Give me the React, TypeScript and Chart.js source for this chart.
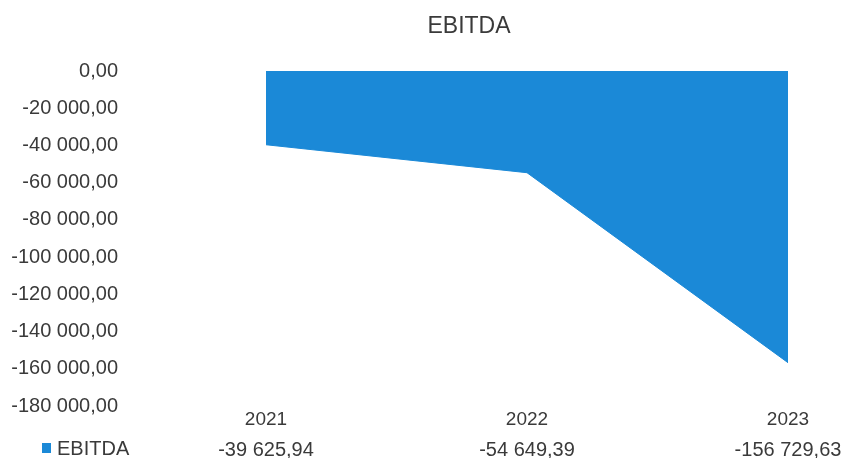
import React, { useEffect, useRef } from "react";
import { Chart, registerables } from "chart.js";

Chart.register(...registerables);

const title = "EBITDA";
const seriesName = "EBITDA";
const categories = ["2021", "2022", "2023"];
const ebitda = [-39625.94, -54649.39, -156729.63];
const yMin = -180000;
const yMax = 0;
const yStep = 20000;

const FONT = "'Liberation Sans', Arial, sans-serif";
const TEXT = "#3a3a3a";
const BLUE = "#1b89d7";

function fmt(v: number): string {
  const neg = v < 0;
  const s = Math.abs(v).toFixed(2);
  const [i, d] = s.split(".");
  const g = i.replace(/\B(?=(\d{3})+(?!\d))/g, " ");
  return (neg ? "-" : "") + g + "," + d;
}

const extrasPlugin = {
  id: "extras",
  afterDraw(chart: any) {
    const ctx = chart.ctx;
    const xs = chart.scales.x;
    ctx.save();
    ctx.fillStyle = TEXT;
    ctx.textBaseline = "middle";
    // title
    ctx.font = `23px ${FONT}`;
    ctx.textAlign = "center";
    ctx.fillText(title, 469, 27);
    // data table row
    ctx.font = `20px ${FONT}`;
    ebitda.forEach((v, i) => {
      ctx.fillText(fmt(v), xs.getPixelForValue(i), 450);
    });
    // legend key
    ctx.fillStyle = BLUE;
    ctx.fillRect(42, 443, 9, 10);
    ctx.fillStyle = TEXT;
    ctx.textAlign = "left";
    ctx.fillText(seriesName, 57, 449);
    ctx.restore();
  },
};

export default function App() {
  const ref = useRef<HTMLCanvasElement | null>(null);
  useEffect(() => {
    if (!ref.current) return;
    const chart = new Chart(ref.current, {
      type: "line",
      data: {
        labels: categories,
        datasets: [
          {
            label: seriesName,
            data: ebitda,
            fill: "origin",
            backgroundColor: BLUE,
            borderColor: BLUE,
            borderWidth: 1,
            pointRadius: 0,
            tension: 0,
          },
        ],
      },
      options: {
        animation: false,
        responsive: false,
        maintainAspectRatio: false,
        devicePixelRatio: 1,
        layout: { padding: { left: 0, right: 58, top: 71, bottom: 0 } },
        plugins: {
          legend: { display: false },
          title: { display: false },
          tooltip: { enabled: false },
        },
        scales: {
          x: {
            offset: false,
            grid: { display: false, drawTicks: false },
            border: { display: false },
            ticks: {
              color: TEXT,
              font: { family: FONT, size: 19 },
              padding: 2,
              maxRotation: 0,
              autoSkip: false,
            },
            afterFit(scale: any) {
              scale.height = 52;
            },
          },
          y: {
            min: yMin,
            max: yMax,
            grid: { display: false, drawTicks: false },
            border: { display: false },
            ticks: {
              stepSize: yStep,
              color: TEXT,
              font: { family: FONT, size: 20 },
              padding: 148,
              callback: (v: any) => fmt(Number(v)),
            },
            afterFit(scale: any) {
              scale.width = 266;
              scale.paddingTop = 10;
              scale.paddingBottom = 10;
            },
          },
        },
      },
      plugins: [extrasPlugin],
    });
    return () => chart.destroy();
  }, []);
  return (
    <div style={{ position: "absolute", left: 0, top: 0, width: 846, height: 458, background: "#fff" }}>
      <canvas ref={ref} width={846} height={458} style={{ width: 846, height: 458 }} />
    </div>
  );
}
